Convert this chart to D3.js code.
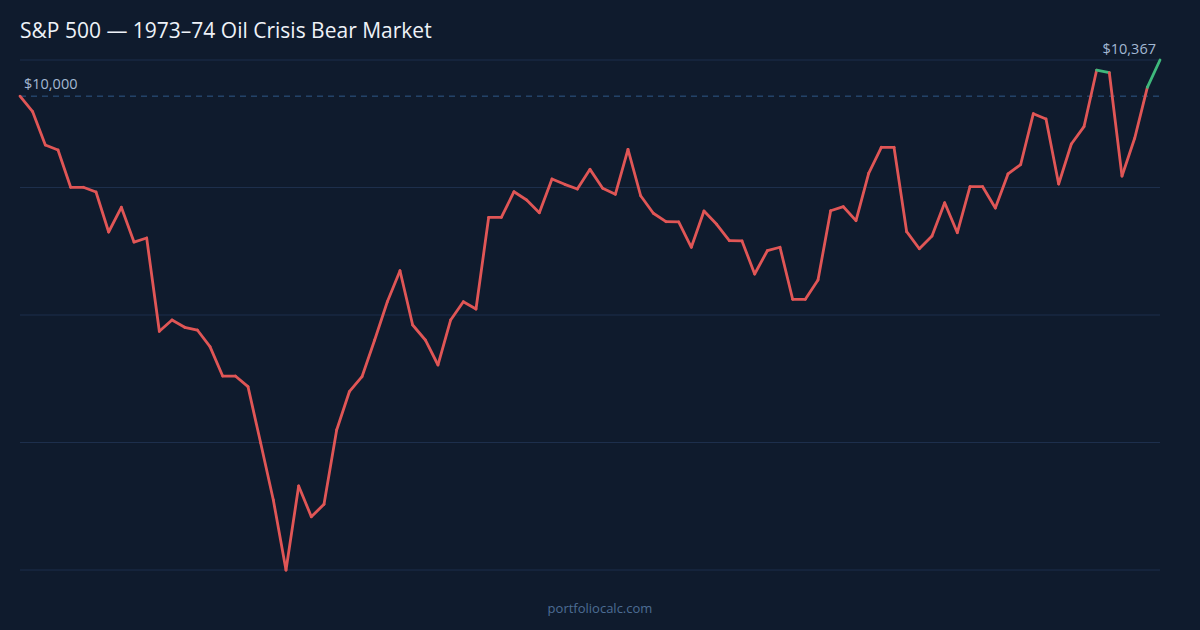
<!DOCTYPE html>
<html>
<head>
<meta charset="utf-8">
<script src="https://cdn.jsdelivr.net/npm/d3@7"></script>
<style>
  html, body { margin: 0; padding: 0; background: #0f1b2d; }
  svg { display: block; font-family: "Segoe UI", "Open Sans", "Noto Sans", sans-serif; }
</style>
</head>
<body>
<div id="chart"></div>
<script>
const TITLE = 'S&P 500 — 1973–74 Oil Crisis Bear Market';
const FOOTER = 'portfoliocalc.com';
const START_VALUE = 10000;

// portfolio value, $10,000 invested at the start
const values = [
  10000, 9842, 9504, 9453, 9075, 9075, 9027, 8621, 8872, 8519,
  8560, 7613, 7728, 7654, 7626, 7457, 7159, 7159, 7051, 6479,
  5901, 5190, 6043, 5731, 5857, 6611, 7000, 7152, 7525, 7913,
  8228, 7677, 7525, 7271, 7728, 7913, 7839, 8770, 8770, 9030,
  8946, 8817, 9159, 9105, 9057, 9257, 9065, 9004, 9460, 8989,
  8811, 8726, 8723, 8466, 8834, 8699, 8533, 8530, 8195, 8431,
  8466, 7938, 7938, 8134, 8837, 8878, 8736, 9217, 9481, 9481,
  8624, 8451, 8580, 8918, 8614, 9081, 9081, 8865, 9210, 9306,
  9822, 9768, 9108, 9514, 9690, 10265, 10238, 9189, 9572, 10090,
  10367
];

const svgWidth = 1200;
const svgHeight = 630;
const margin = { top: 60, right: 40, bottom: 60, left: 20 };
const width = svgWidth - margin.left - margin.right;
const height = svgHeight - margin.top - margin.bottom;

const svg = d3.select('#chart')
  .append('svg')
  .attr('width', svgWidth)
  .attr('height', svgHeight);

svg.append('rect')
  .attr('width', svgWidth)
  .attr('height', svgHeight)
  .attr('fill', '#0f1b2d');

svg.append('text')
  .attr('x', 20)
  .attr('y', 38)
  .attr('fill', '#eef2f8')
  .style('font-size', '21px')
  .text(TITLE);

const g = svg.append('g')
  .attr('transform', `translate(${margin.left}, ${margin.top})`);

const x = d3.scaleLinear().domain([0, values.length - 1]).range([0, width]);
const [yMin, yMax] = d3.extent(values);
const y = d3.scaleLinear().domain([yMin, yMax]).range([height, 0]);

// five evenly spaced grid lines between min and max
const gridValues = d3.range(5).map(i => yMin + (yMax - yMin) * i / 4);
g.selectAll('.grid')
  .data(gridValues)
  .enter()
  .append('line')
  .attr('class', 'grid')
  .attr('x1', 0)
  .attr('x2', width)
  .attr('y1', d => y(d))
  .attr('y2', d => y(d))
  .attr('stroke', '#1d2f4c')
  .attr('stroke-width', 1);

// starting value reference
g.append('line')
  .attr('x1', 0)
  .attr('x2', width)
  .attr('y1', y(START_VALUE))
  .attr('y2', y(START_VALUE))
  .attr('stroke', '#2f5987')
  .attr('stroke-width', 1)
  .attr('stroke-dasharray', '6,5');

g.append('text')
  .attr('x', 4)
  .attr('y', y(START_VALUE) - 7)
  .attr('fill', '#a3b8d3')
  .style('font-size', '14.5px')
  .text('$' + d3.format(',')(START_VALUE));

// segments: green when both ends are above the start value
const segments = d3.pairs(values.map((v, i) => ({ i, v })));
g.selectAll('.seg')
  .data(segments)
  .enter()
  .append('line')
  .attr('class', 'seg')
  .attr('x1', d => x(d[0].i))
  .attr('y1', d => y(d[0].v))
  .attr('x2', d => x(d[1].i))
  .attr('y2', d => y(d[1].v))
  .attr('stroke', d => (d[0].v > START_VALUE && d[1].v > START_VALUE) ? '#3fb97c' : '#e05656')
  .attr('stroke-width', 2.8)
  .attr('stroke-linecap', 'round');

const last = values[values.length - 1];
g.append('text')
  .attr('x', x(values.length - 1) - 4)
  .attr('y', y(last) - 6)
  .attr('text-anchor', 'end')
  .attr('fill', '#a3b8d3')
  .style('font-size', '14.5px')
  .text('$' + d3.format(',')(last));

svg.append('text')
  .attr('x', svgWidth / 2)
  .attr('y', 613)
  .attr('text-anchor', 'middle')
  .attr('fill', '#4d6d94')
  .style('font-size', '13px')
  .text(FOOTER);
</script>
</body>
</html>
